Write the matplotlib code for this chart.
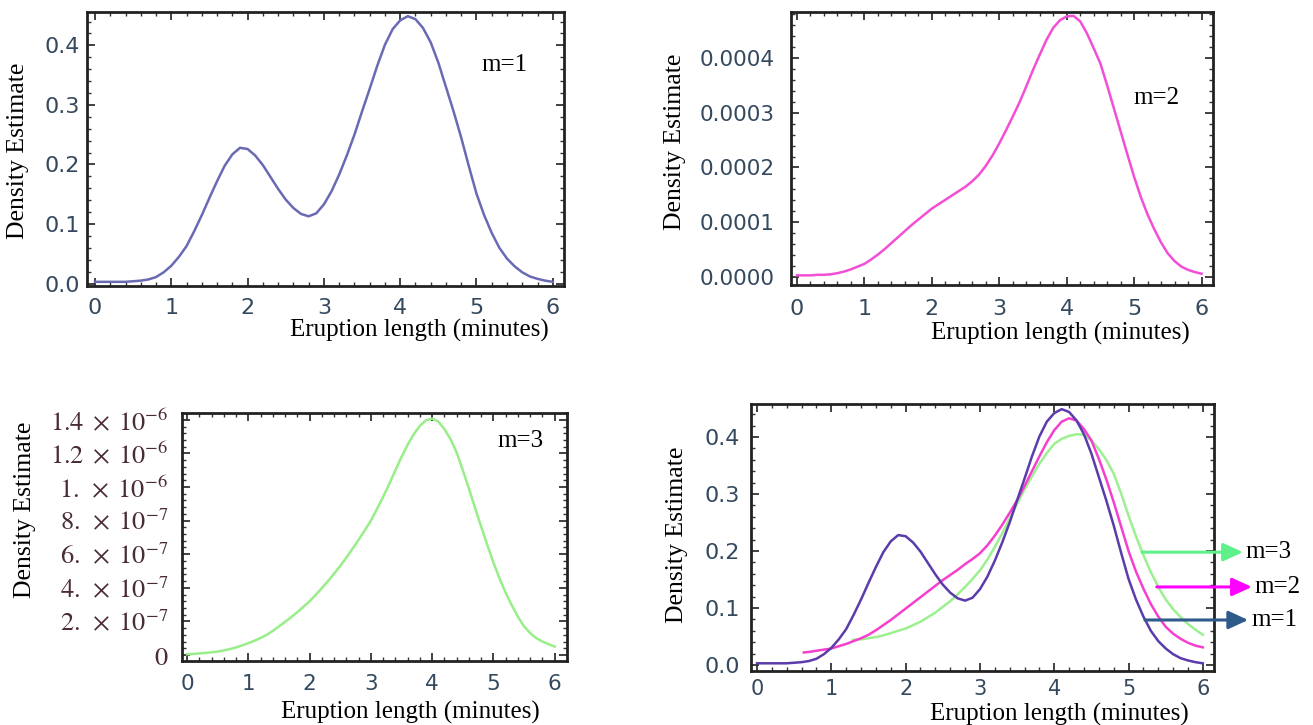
import numpy as np
import matplotlib
matplotlib.use("Agg")
import matplotlib.pyplot as plt
from matplotlib.ticker import (MultipleLocator, AutoMinorLocator, FixedLocator,
                               FixedFormatter, FormatStrFormatter)

plt.rcParams['mathtext.fontset'] = 'stix'

# sampling positions (minutes)
xs = np.round(np.arange(0, 6.01, 0.1), 1)

# m=1 density estimate
y1 = [0.003, 0.003, 0.003, 0.003, 0.003, 0.004, 0.005, 0.007, 0.011, 0.019,
      0.030, 0.045, 0.063, 0.088, 0.115, 0.144, 0.172, 0.198, 0.217, 0.228,
      0.226, 0.215, 0.199, 0.179, 0.159, 0.141, 0.127, 0.117, 0.113, 0.118,
      0.133, 0.155, 0.183, 0.215, 0.250, 0.289, 0.327, 0.366, 0.401, 0.427,
      0.442, 0.449, 0.444, 0.429, 0.405, 0.371, 0.330, 0.289, 0.245, 0.197,
      0.151, 0.115, 0.085, 0.060, 0.042, 0.029, 0.019, 0.012, 0.008, 0.005, 0.003]

# m=2 density estimate (x 1e-4)
y2 = [0.03, 0.03, 0.03, 0.04, 0.04, 0.05, 0.07, 0.10, 0.14, 0.19,
      0.24, 0.32, 0.41, 0.51, 0.62, 0.73, 0.84, 0.95, 1.05, 1.15,
      1.25, 1.33, 1.41, 1.49, 1.57, 1.65, 1.75, 1.87, 2.03, 2.22,
      2.44, 2.68, 2.93, 3.19, 3.48, 3.78, 4.06, 4.33, 4.55, 4.69,
      4.76, 4.77, 4.67, 4.45, 4.18, 3.90, 3.50, 3.08, 2.66, 2.24,
      1.83, 1.46, 1.14, 0.87, 0.63, 0.43, 0.29, 0.19, 0.13, 0.09, 0.06]

# m=3 density estimate (x 1e-6)
y3 = [0.004, 0.006, 0.009, 0.012, 0.016, 0.020, 0.027, 0.035, 0.045, 0.057,
      0.070, 0.085, 0.101, 0.120, 0.143, 0.170, 0.197, 0.225, 0.255, 0.287,
      0.320, 0.358, 0.398, 0.440, 0.485, 0.530, 0.580, 0.632, 0.686, 0.742,
      0.800, 0.870, 0.942, 1.018, 1.100, 1.180, 1.252, 1.315, 1.365, 1.398,
      1.408, 1.390, 1.345, 1.285, 1.205, 1.100, 0.990, 0.876, 0.763, 0.655,
      0.550, 0.455, 0.370, 0.295, 0.227, 0.170, 0.130, 0.100, 0.080, 0.064, 0.050]

# normalised m=2 and m=3 curves for the comparison panel
x4b = [0.63, 0.7, 0.8, 0.9, 1.0, 1.1, 1.2, 1.3, 1.4, 1.5, 1.6, 1.7, 1.8, 1.9, 2.0,
       2.1, 2.2, 2.3, 2.4, 2.5, 2.6, 2.7, 2.8, 2.9, 3.0, 3.1, 3.2, 3.3, 3.4, 3.5,
       3.6, 3.7, 3.8, 3.9, 4.0, 4.1, 4.2, 4.3, 4.4, 4.5, 4.6, 4.7, 4.8, 4.9, 5.0,
       5.1, 5.2, 5.3, 5.4, 5.5, 5.6, 5.7, 5.8, 5.9, 6.0]
y4b = [0.022, 0.023, 0.025, 0.027, 0.029, 0.033, 0.037, 0.042, 0.047, 0.053,
       0.061, 0.070, 0.079, 0.089, 0.099, 0.109, 0.119, 0.129, 0.139, 0.149,
       0.158, 0.167, 0.177, 0.186, 0.196, 0.210, 0.227, 0.246, 0.267, 0.289,
       0.314, 0.340, 0.366, 0.391, 0.412, 0.427, 0.433, 0.429, 0.414, 0.394,
       0.362, 0.326, 0.286, 0.243, 0.200, 0.164, 0.134, 0.107, 0.085, 0.067,
       0.055, 0.046, 0.039, 0.034, 0.031]
x4c = [1.29, 1.4, 1.5, 1.6, 1.7, 1.8, 1.9, 2.0, 2.1, 2.2, 2.3, 2.4, 2.5, 2.6, 2.7,
       2.8, 2.9, 3.0, 3.1, 3.2, 3.3, 3.4, 3.5, 3.6, 3.7, 3.8, 3.9, 4.0, 4.1, 4.2,
       4.3, 4.4, 4.5, 4.6, 4.7, 4.8, 4.9, 5.0, 5.1, 5.2, 5.3, 5.4, 5.5, 5.6, 5.7,
       5.8, 5.9, 6.0]
y4c = [0.044, 0.045, 0.047, 0.049, 0.052, 0.056, 0.060, 0.064, 0.070, 0.076,
       0.084, 0.092, 0.102, 0.112, 0.124, 0.137, 0.151, 0.166, 0.185, 0.207,
       0.231, 0.257, 0.283, 0.308, 0.331, 0.353, 0.372, 0.388, 0.397, 0.402,
       0.405, 0.404, 0.394, 0.379, 0.360, 0.336, 0.301, 0.262, 0.226, 0.193,
       0.163, 0.137, 0.115, 0.098, 0.084, 0.072, 0.062, 0.053]

p3_ticks = [0, 2e-7, 4e-7, 6e-7, 8e-7, 1e-6, 1.2e-6, 1.4e-6]
p3_labels = [r"$0$", r"$2.\;\times\;10^{-7}$", r"$4.\;\times\;10^{-7}$",
             r"$6.\;\times\;10^{-7}$", r"$8.\;\times\;10^{-7}$",
             r"$1.\;\times\;10^{-6}$", r"$1.2\;\times\;10^{-6}$",
             r"$1.4\;\times\;10^{-6}$"]

W, H = 1313, 725
fig = plt.figure(figsize=(W / 100, H / 100), dpi=100)
serif = "Liberation Serif"
tick_col = "#34495e"


def px(x, y):
    return x / W, 1 - y / H


def box(l, t, r, b):
    return [l / W, 1 - b / H, (r - l) / W, (b - t) / H]


def frame(ax, xpad, ypad, xsize, ysize):
    for s in ax.spines.values():
        s.set_linewidth(2)
        s.set_color("#222222")
    ax.xaxis.set_major_locator(MultipleLocator(1))
    ax.xaxis.set_minor_locator(AutoMinorLocator(5))
    ax.yaxis.set_minor_locator(AutoMinorLocator(5))
    ax.tick_params(which="both", direction="in", top=True, right=True, color="#333333")
    ax.tick_params(which="major", length=6, width=1.3)
    ax.tick_params(which="minor", length=3, width=1)
    ax.tick_params(axis="x", pad=xpad, labelsize=xsize, labelcolor=tick_col)
    ax.tick_params(axis="y", pad=ypad, labelsize=ysize, labelcolor=tick_col)


# panel 1
ax1 = fig.add_axes(box(87, 12, 564, 286))
ax1.plot(xs, y1, color="#6a6ab4", lw=1.8)
ax1.set_xlim(-0.105, 6.147)
ax1.set_ylim(-0.004, 0.456)
ax1.yaxis.set_major_locator(MultipleLocator(0.1))
ax1.yaxis.set_major_formatter(FormatStrFormatter("%.1f"))
frame(ax1, 9, 5, 16, 16)
ax1.text(5.07, 0.367, "m=1", family=serif, fontsize=18, va="center")

# panel 2
ax2 = fig.add_axes(box(791, 12, 1213, 285))
ax2.plot(xs, np.array(y2) * 1e-4, color="#f24fd6", lw=1.8)
ax2.set_xlim(-0.089, 6.17)
ax2.set_ylim(-0.146e-4, 4.84e-4)
ax2.yaxis.set_major_locator(MultipleLocator(1e-4))
ax2.yaxis.set_major_formatter(FormatStrFormatter("%.4f"))
frame(ax2, 10, 12, 16, 15.5)
ax2.text(4.99, 3.27e-4, "m=2", family=serif, fontsize=18, va="center")

# panel 3
ax3 = fig.add_axes(box(182, 413, 567, 661))
ax3.plot(xs, np.array(y3) * 1e-6, color="#98ee88", lw=1.8)
ax3.set_xlim(-0.082, 6.2)
ax3.set_ylim(-0.036e-6, 1.441e-6)
ax3.yaxis.set_major_locator(FixedLocator(p3_ticks))
ax3.yaxis.set_major_formatter(FixedFormatter(p3_labels))
frame(ax3, 9, 10, 15.5, 19)
ax3.tick_params(axis="y", labelcolor="#4a2c34")
ax3.text(5.06, 1.275e-6, "m=3", family=serif, fontsize=18, va="center")

# panel 4
ax4 = fig.add_axes(box(751, 404, 1214, 671))
ax4.plot(x4c, y4c, color="#9cf090", lw=1.8)
ax4.plot(x4b, y4b, color="#f53fcf", lw=1.8)
ax4.plot(xs, y1, color="#5a3caa", lw=1.8)
ax4.set_xlim(-0.081, 6.15)
ax4.set_ylim(-0.0105, 0.458)
ax4.yaxis.set_major_locator(MultipleLocator(0.1))
ax4.yaxis.set_major_formatter(FormatStrFormatter("%.1f"))
frame(ax4, 6, 8, 15, 16)

arrows = [("m=3", 5.18, 6.54, 0.198, "#5ef08a"),
          ("m=2", 5.38, 6.66, 0.137, "#ff00ff"),
          ("m=1", 5.22, 6.61, 0.079, "#2f5a8c")]
for lab, xa, xb, ya, c in arrows:
    ax4.annotate("", xy=(xb, ya), xytext=(xa, ya), annotation_clip=False,
                 arrowprops=dict(arrowstyle="-|>,head_length=1.2,head_width=0.55",
                                 color=c, lw=2.2, shrinkA=0, shrinkB=0))
    ax4.text(xb + 0.04, ya, lab, family=serif, fontsize=18, va="center", clip_on=False)

# axis titles
for x, y in [(419, 330), (1060, 333), (410, 712), (1059, 714)]:
    fig.text(*px(x, y), "Eruption length (minutes)", family=serif, fontsize=18,
             ha="center", va="center")
for x, y in [(18, 151), (675, 142), (25, 510), (677, 535)]:
    fig.text(*px(x, y), "Density Estimate", family=serif, fontsize=18.5,
             ha="center", va="center", rotation=90)

fig.savefig("out.png", dpi=100)
